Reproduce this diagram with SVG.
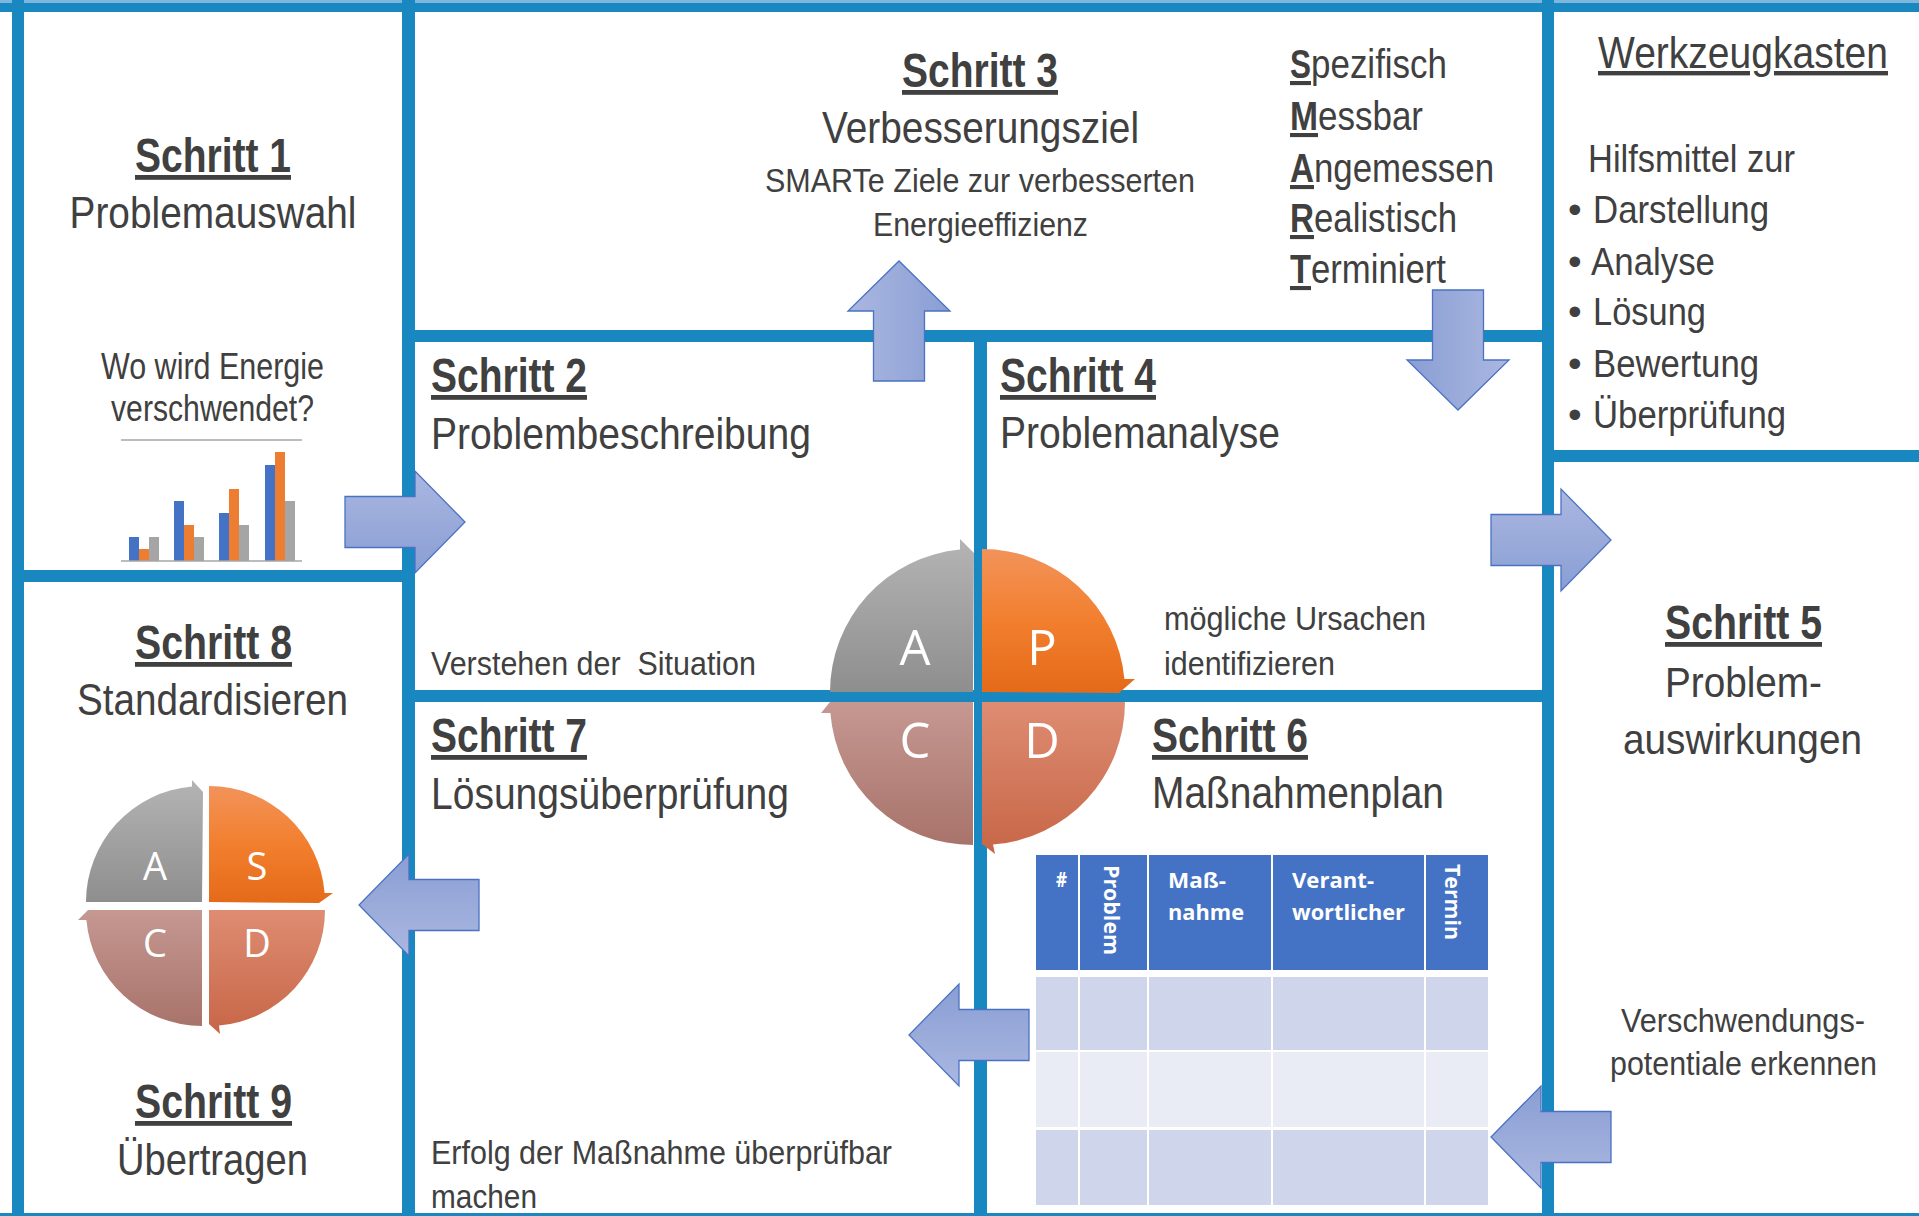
<svg xmlns="http://www.w3.org/2000/svg" xmlns:xlink="http://www.w3.org/1999/xlink" width="1919" height="1216" viewBox="0 0 1919 1216">
<style>
.t{font-family:"Liberation Sans",Arial,sans-serif;fill:#404040}
.b{font-weight:bold}
.u{text-decoration:underline}
.ttl{font-size:48px;font-weight:bold;text-decoration:underline}
.sub{font-size:44px}
.sm{font-size:34px}
.smart{font-size:41px}
.tb{font-size:39px}
.ln{fill:#1987c0}
.lt{font-family:"Open Sans","Noto Sans",sans-serif;fill:#ffffff}
.th{font-family:"Open Sans","Noto Sans",sans-serif;fill:#ffffff;font-weight:bold;font-size:21px}
.hd{fill:#4472c4}
.r1{fill:#cfd5ea}
.r2{fill:#e9ebf5}
</style>
<defs>
<linearGradient id="ag" x1="0" y1="0" x2="0" y2="1"><stop offset="0" stop-color="#aab7e0"/><stop offset="1" stop-color="#8a9ed4"/></linearGradient>
<linearGradient id="gA" x1="0" y1="0" x2="0" y2="1"><stop offset="0" stop-color="#b4b4b4"/><stop offset="1" stop-color="#8e8e8e"/></linearGradient>
<linearGradient id="gP" x1="0" y1="0" x2="0" y2="1"><stop offset="0" stop-color="#f2935a"/><stop offset="0.5" stop-color="#f27f2e"/><stop offset="1" stop-color="#e46a18"/></linearGradient>
<linearGradient id="gC" x1="0" y1="0" x2="0" y2="1"><stop offset="0" stop-color="#c59891"/><stop offset="1" stop-color="#a8736b"/></linearGradient>
<linearGradient id="gD" x1="0" y1="0" x2="0" y2="1"><stop offset="0" stop-color="#de8c72"/><stop offset="1" stop-color="#c76647"/></linearGradient>
<path id="arr" d="M-120,-25.5 H-50 V-51 L0,0 L-50,51 V25.5 H-120 Z" fill="url(#ag)" stroke="#4a72c4" stroke-width="1.3"/>
</defs>
<rect width="1919" height="1216" fill="#ffffff"/>

<g id="frame">
<rect class="ln" x="0" y="0" width="1919" height="12"/>
<rect x="0" y="0" width="1919" height="3" fill="#7db7dd"/>
<rect class="ln" x="12" y="0" width="12" height="1216"/>
<rect class="ln" x="402" y="0" width="13" height="1216"/>
<rect class="ln" x="12" y="570" width="403" height="12"/>
<rect class="ln" x="402" y="330" width="1152" height="12"/>
<rect class="ln" x="974" y="330" width="13" height="886"/>
<rect class="ln" x="402" y="690" width="1152" height="12"/>
<rect class="ln" x="1542" y="0" width="12" height="1216"/>
<rect class="ln" x="1542" y="450" width="377" height="12"/>
<rect class="ln" x="0" y="1213" width="1919" height="3"/>
</g>

<g id="step1">
<text class="t ttl" x="213" y="172" text-anchor="middle" textLength="156" lengthAdjust="spacingAndGlyphs">Schritt 1</text>
<text class="t sub" x="213" y="228" text-anchor="middle" textLength="287" lengthAdjust="spacingAndGlyphs">Problemauswahl</text>
<text class="t" font-size="36" x="212.5" y="379" text-anchor="middle" textLength="223" lengthAdjust="spacingAndGlyphs">Wo wird Energie</text>
<text class="t" font-size="36" x="212.5" y="421" text-anchor="middle" textLength="203" lengthAdjust="spacingAndGlyphs">verschwendet?</text>
<g id="chart">
<line x1="121" y1="440" x2="302" y2="440" stroke="#a6a6a6" stroke-width="1.5"/>
<rect x="129" y="537" width="10" height="24" fill="#4472c4"/>
<rect x="139" y="549" width="10" height="12" fill="#ed7d31"/>
<rect x="149" y="537" width="10" height="24" fill="#a5a5a5"/>
<rect x="174" y="501" width="10" height="60" fill="#4472c4"/>
<rect x="184" y="525" width="10" height="36" fill="#ed7d31"/>
<rect x="194" y="537" width="10" height="24" fill="#a5a5a5"/>
<rect x="219" y="513" width="10" height="48" fill="#4472c4"/>
<rect x="229" y="489" width="10" height="72" fill="#ed7d31"/>
<rect x="239" y="525" width="10" height="36" fill="#a5a5a5"/>
<rect x="265" y="465" width="10" height="96" fill="#4472c4"/>
<rect x="275" y="452" width="10" height="109" fill="#ed7d31"/>
<rect x="285" y="501" width="10" height="60" fill="#a5a5a5"/>
<line x1="121" y1="561" x2="302" y2="561" stroke="#a6a6a6" stroke-width="1.5"/>
</g>
</g>

<g id="step2">
<text class="t ttl" x="431" y="392" textLength="156" lengthAdjust="spacingAndGlyphs">Schritt 2</text>
<text class="t sub" x="431" y="449" textLength="380" lengthAdjust="spacingAndGlyphs">Problembeschreibung</text>
<text class="t sm" x="431" y="675" xml:space="preserve" textLength="325" lengthAdjust="spacingAndGlyphs">Verstehen der  Situation</text>
</g>

<g id="step3">
<text class="t ttl" x="980" y="87" text-anchor="middle" textLength="156" lengthAdjust="spacingAndGlyphs">Schritt 3</text>
<text class="t sub" x="980.5" y="143" text-anchor="middle" textLength="317" lengthAdjust="spacingAndGlyphs">Verbesserungsziel</text>
<text class="t" font-size="33" x="980" y="192" text-anchor="middle" textLength="430" lengthAdjust="spacingAndGlyphs">SMARTe Ziele zur verbesserten</text>
<text class="t" font-size="33" x="980.5" y="236" text-anchor="middle" textLength="215" lengthAdjust="spacingAndGlyphs">Energieeffizienz</text>
<g id="smart">
<text class="t smart b u" x="1290" y="78" textLength="21" lengthAdjust="spacingAndGlyphs">S</text>
<text class="t smart" x="1311" y="78" textLength="136" lengthAdjust="spacingAndGlyphs">pezifisch</text>
<text class="t smart b u" x="1290" y="130" textLength="28" lengthAdjust="spacingAndGlyphs">M</text>
<text class="t smart" x="1318" y="130" textLength="105" lengthAdjust="spacingAndGlyphs">essbar</text>
<text class="t smart b u" x="1290" y="182" textLength="24" lengthAdjust="spacingAndGlyphs">A</text>
<text class="t smart" x="1314" y="182" textLength="180" lengthAdjust="spacingAndGlyphs">ngemessen</text>
<text class="t smart b u" x="1290" y="232" textLength="24" lengthAdjust="spacingAndGlyphs">R</text>
<text class="t smart" x="1314" y="232" textLength="143" lengthAdjust="spacingAndGlyphs">ealistisch</text>
<text class="t smart b u" x="1290" y="283" textLength="21" lengthAdjust="spacingAndGlyphs">T</text>
<text class="t smart" x="1311" y="283" textLength="135" lengthAdjust="spacingAndGlyphs">erminiert</text>
</g>
</g>

<g id="toolbox">
<text class="t u" font-size="44" x="1743" y="68" text-anchor="middle" textLength="290" lengthAdjust="spacingAndGlyphs">Werkzeugkasten</text>
<text class="t" font-size="38" x="1588" y="172" textLength="207" lengthAdjust="spacingAndGlyphs">Hilfsmittel zur</text>
<text class="t tb" x="1568" y="223">•</text>
<text class="t tb" x="1593" y="223" textLength="176" lengthAdjust="spacingAndGlyphs">Darstellung</text>
<text class="t tb" x="1568" y="275">•</text>
<text class="t tb" x="1591" y="275" textLength="124" lengthAdjust="spacingAndGlyphs">Analyse</text>
<text class="t tb" x="1568" y="325">•</text>
<text class="t tb" x="1593" y="325" textLength="113" lengthAdjust="spacingAndGlyphs">Lösung</text>
<text class="t tb" x="1568" y="377">•</text>
<text class="t tb" x="1593" y="377" textLength="166" lengthAdjust="spacingAndGlyphs">Bewertung</text>
<text class="t tb" x="1568" y="428">•</text>
<text class="t tb" x="1593" y="428" textLength="193" lengthAdjust="spacingAndGlyphs">Überprüfung</text>
</g>

<g id="step4">
<text class="t ttl" x="1000" y="392" textLength="156" lengthAdjust="spacingAndGlyphs">Schritt 4</text>
<text class="t sub" x="1000" y="448" textLength="280" lengthAdjust="spacingAndGlyphs">Problemanalyse</text>
<text class="t sm" x="1164" y="630" textLength="262" lengthAdjust="spacingAndGlyphs">mögliche Ursachen</text>
<text class="t sm" x="1164" y="675" textLength="171" lengthAdjust="spacingAndGlyphs">identifizieren</text>
</g>

<g id="step5">
<text class="t ttl" x="1743.5" y="639" text-anchor="middle" textLength="157" lengthAdjust="spacingAndGlyphs">Schritt 5</text>
<text class="t" font-size="42" x="1743.5" y="697" text-anchor="middle" textLength="157" lengthAdjust="spacingAndGlyphs">Problem-</text>
<text class="t" font-size="42" x="1742.5" y="754" text-anchor="middle" textLength="239" lengthAdjust="spacingAndGlyphs">auswirkungen</text>
<text class="t sm" x="1743" y="1032" text-anchor="middle" textLength="244" lengthAdjust="spacingAndGlyphs">Verschwendungs-</text>
<text class="t sm" x="1743.5" y="1075" text-anchor="middle" textLength="267" lengthAdjust="spacingAndGlyphs">potentiale erkennen</text>
</g>

<g id="step6">
<text class="t ttl" x="1152" y="752" textLength="156" lengthAdjust="spacingAndGlyphs">Schritt 6</text>
<text class="t sub" x="1152" y="808" textLength="292" lengthAdjust="spacingAndGlyphs">Maßnahmenplan</text>
<g id="table">
<rect class="hd" x="1036" y="855" width="42" height="115"/>
<rect class="hd" x="1080" y="855" width="67" height="115"/>
<rect class="hd" x="1149" y="855" width="122" height="115"/>
<rect class="hd" x="1273" y="855" width="151" height="115"/>
<rect class="hd" x="1426" y="855" width="62" height="115"/>
<rect class="r1" x="1036" y="977" width="42" height="73"/>
<rect class="r1" x="1080" y="977" width="67" height="73"/>
<rect class="r1" x="1149" y="977" width="122" height="73"/>
<rect class="r1" x="1273" y="977" width="151" height="73"/>
<rect class="r1" x="1426" y="977" width="62" height="73"/>
<rect class="r2" x="1036" y="1052" width="42" height="75"/>
<rect class="r2" x="1080" y="1052" width="67" height="75"/>
<rect class="r2" x="1149" y="1052" width="122" height="75"/>
<rect class="r2" x="1273" y="1052" width="151" height="75"/>
<rect class="r2" x="1426" y="1052" width="62" height="75"/>
<rect class="r1" x="1036" y="1130" width="42" height="75"/>
<rect class="r1" x="1080" y="1130" width="67" height="75"/>
<rect class="r1" x="1149" y="1130" width="122" height="75"/>
<rect class="r1" x="1273" y="1130" width="151" height="75"/>
<rect class="r1" x="1426" y="1130" width="62" height="75"/>
<text class="th" x="1056" y="887" textLength="11" lengthAdjust="spacingAndGlyphs">#</text>
<text class="th" transform="translate(1104,865) rotate(90)" x="0" y="0" textLength="90" lengthAdjust="spacingAndGlyphs">Problem</text>
<text class="th" x="1168" y="888" textLength="58" lengthAdjust="spacingAndGlyphs">Maß-</text>
<text class="th" x="1168" y="920" textLength="76" lengthAdjust="spacingAndGlyphs">nahme</text>
<text class="th" x="1292" y="888" textLength="82" lengthAdjust="spacingAndGlyphs">Verant-</text>
<text class="th" x="1292" y="920" textLength="113" lengthAdjust="spacingAndGlyphs">wortlicher</text>
<text class="th" transform="translate(1445,864) rotate(90)" x="0" y="0" textLength="76" lengthAdjust="spacingAndGlyphs">Termin</text>
</g>
</g>

<g id="step7">
<text class="t ttl" x="431" y="752" textLength="156" lengthAdjust="spacingAndGlyphs">Schritt 7</text>
<text class="t sub" x="431" y="809" textLength="358" lengthAdjust="spacingAndGlyphs">Lösungsüberprüfung</text>
<text class="t sm" x="431" y="1164" textLength="461" lengthAdjust="spacingAndGlyphs">Erfolg der Maßnahme überprüfbar</text>
<text class="t sm" x="431" y="1208" textLength="106" lengthAdjust="spacingAndGlyphs">machen</text>
</g>

<g id="step8">
<text class="t ttl" x="213.5" y="659" text-anchor="middle" textLength="157" lengthAdjust="spacingAndGlyphs">Schritt 8</text>
<text class="t sub" x="212.5" y="715" text-anchor="middle" textLength="271" lengthAdjust="spacingAndGlyphs">Standardisieren</text>
<g id="asdc">
<path d="M202,902 L86,902 A116,116 0 0 1 192,786.4 L192,780 L203,792 Z" fill="url(#gA)"/>
<path d="M209,902 L209,786 A116,116 0 0 1 324.6,893 L333,893 L319,903 Z" fill="url(#gP)"/>
<path d="M202,910 L88,910 L78,920 L86.4,920 A116,116 0 0 0 202,1026 Z" fill="url(#gC)"/>
<path d="M209,910 L325,910 A116,116 0 0 1 219,1025.6 L220,1034 L209,1024 Z" fill="url(#gD)"/>
<text class="lt" font-size="38" x="155" y="880" text-anchor="middle">A</text>
<text class="lt" font-size="38" x="257" y="880" text-anchor="middle">S</text>
<text class="lt" font-size="38" x="155" y="957" text-anchor="middle">C</text>
<text class="lt" font-size="38" x="257" y="957" text-anchor="middle">D</text>
</g>
</g>

<g id="step9">
<text class="t ttl" x="213.5" y="1118" text-anchor="middle" textLength="157" lengthAdjust="spacingAndGlyphs">Schritt 9</text>
<text class="t sub" x="212.5" y="1175" text-anchor="middle" textLength="191" lengthAdjust="spacingAndGlyphs">Übertragen</text>
</g>

<g id="pdca">
<path d="M973,692 L830,692 A143,143 0 0 1 960,549.6 L960,539 L974,553 Z" fill="url(#gA)"/>
<path d="M982,692 L982,549 A143,143 0 0 1 1124.4,679 L1135,679 L1119,693 Z" fill="url(#gP)"/>
<path d="M973,702 L830,702 L821,713 L830.4,713 A143,143 0 0 0 973,845 Z" fill="url(#gC)"/>
<path d="M982,702 L1125,702 A143,143 0 0 1 993,844.6 L995,854 L982,844 Z" fill="url(#gD)"/>
<text class="lt" font-size="49" x="915" y="665" text-anchor="middle">A</text>
<text class="lt" font-size="49" x="1042" y="665" text-anchor="middle">P</text>
<text class="lt" font-size="49" x="915" y="758" text-anchor="middle">C</text>
<text class="lt" font-size="49" x="1042" y="758" text-anchor="middle">D</text>
</g>

<g id="connectors">
<use xlink:href="#arr" href="#arr" transform="translate(465,522)"/>
<use xlink:href="#arr" href="#arr" transform="translate(899,261) rotate(-90)"/>
<use xlink:href="#arr" href="#arr" transform="translate(1458,410) rotate(90)"/>
<use xlink:href="#arr" href="#arr" transform="translate(1611,540)"/>
<use xlink:href="#arr" href="#arr" transform="translate(1491,1137) rotate(180)"/>
<use xlink:href="#arr" href="#arr" transform="translate(909,1035) rotate(180)"/>
<use xlink:href="#arr" href="#arr" transform="translate(359,905) rotate(180)"/>
</g>
</svg>
